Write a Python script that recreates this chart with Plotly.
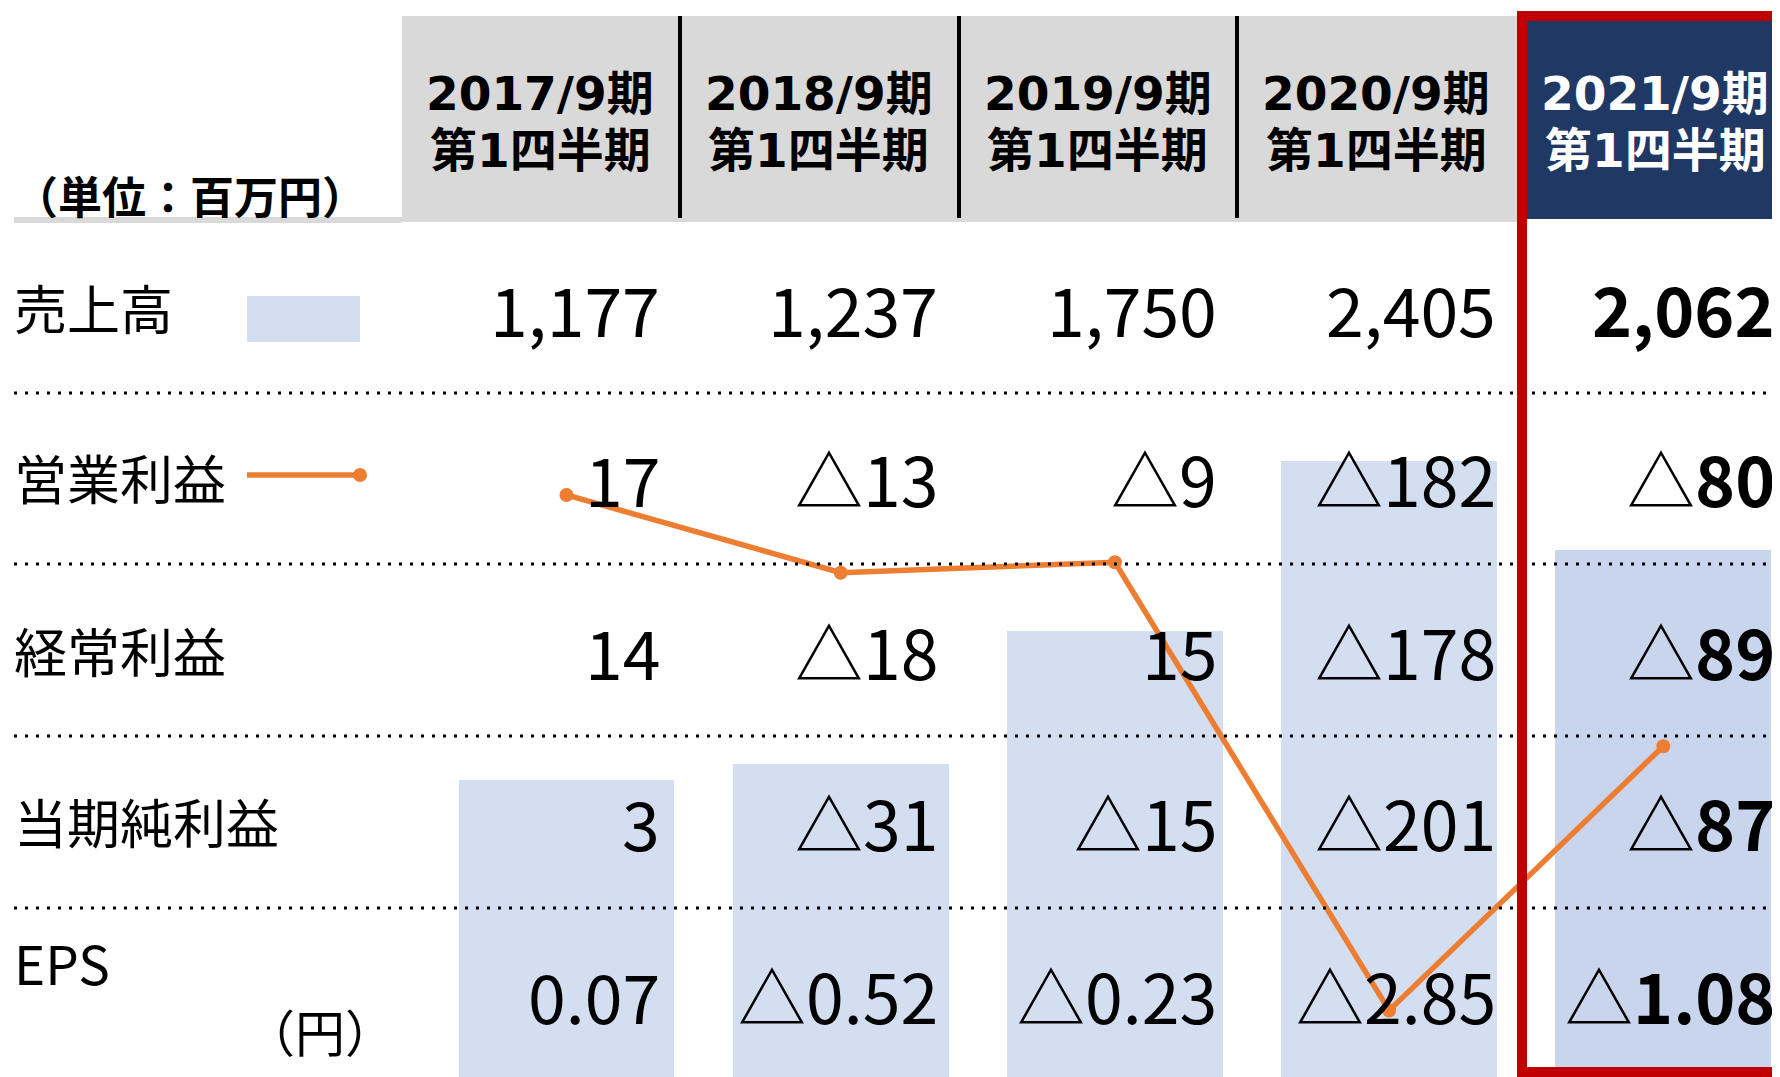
import plotly.graph_objects as go

# ---- data ----
periods = ["2017/9期", "2018/9期", "2019/9期", "2020/9期", "2021/9期"]
quarter_label = "第1四半期"
sales = [1177, 1237, 1750, 2405, 2062]
op_income = [17, -13, -9, -182, -80]
ordinary_income = [14, -18, 15, -178, -89]
net_income = [3, -31, -15, -201, -87]
eps = [0.07, -0.52, -0.23, -2.85, -1.08]
row_labels = ["売上高", "営業利益", "経常利益", "当期純利益", "EPS"]
unit_label = "（単位：百万円）"
eps_unit = "（円）"

# page body has an 8px default margin: figure is placed at (8, 8)
OFF = 8
W, H = 1780 - OFF, 1077 - OFF
FONT = "Noto Sans CJK JP"
HEAD_FONT = "DejaVu Sans, Noto Sans CJK JP"

def px(xp):
    return (xp - OFF) / W

def py(yp):
    return 1 - (yp - OFF) / H

def fmt_int(v):
    s = f"{abs(v):,}"
    return s if v >= 0 else "△" + s

def fmt_eps(v):
    s = f"{abs(v):.2f}"
    return s if v >= 0 else "△" + s

def bold_num(s):
    if s.startswith("△"):
        return "△<b>" + s[1:] + "</b>"
    return "<b>" + s + "</b>"

bar_colors = ["#D3DEF1"] * 4 + ["#C9D5EC"]

fig = go.Figure()
fig.add_trace(go.Bar(x=periods, y=sales, marker=dict(color=bar_colors, line=dict(width=0)),
                     width=0.787, hoverinfo="skip", showlegend=False))
fig.add_trace(go.Scatter(x=periods, y=op_income, yaxis="y2", mode="lines+markers",
                         line=dict(color="#ED7D31", width=5.5),
                         marker=dict(color="#ED7D31", size=14),
                         hoverinfo="skip", showlegend=False))

shapes = []
# header gray block
shapes.append(dict(type="rect", xref="paper", yref="paper", x0=px(402), x1=px(1527),
                   y0=py(222), y1=py(16), fillcolor="#D9D9D9", line=dict(width=0), layer="below"))
# gray underline under unit label
shapes.append(dict(type="rect", xref="paper", yref="paper", x0=px(14), x1=px(402),
                   y0=py(223), y1=py(217), fillcolor="#D9D9D9", line=dict(width=0), layer="below"))
# black separators
for xs in [680, 959, 1237]:
    shapes.append(dict(type="line", xref="paper", yref="paper", x0=px(xs), x1=px(xs),
                       y0=py(218), y1=py(16), line=dict(color="#000000", width=4), layer="above"))
# navy header
shapes.append(dict(type="rect", xref="paper", yref="paper", x0=px(1526), x1=px(1790),
                   y0=py(219), y1=py(21), fillcolor="#203864", line=dict(width=0), layer="above"))
# dotted row lines
for yl in [393, 564, 736, 908]:
    shapes.append(dict(type="line", xref="paper", yref="paper", x0=px(14), x1=px(1790),
                       y0=py(yl), y1=py(yl), line=dict(color="#000000", width=3, dash="3px,8px"),
                       layer="above"))
# legend swatch for sales
shapes.append(dict(type="rect", xref="paper", yref="paper", x0=px(247), x1=px(360),
                   y0=py(342), y1=py(296), fillcolor="#D3DEF1", line=dict(width=0), layer="above"))
# legend line for operating income
shapes.append(dict(type="line", xref="paper", yref="paper", x0=px(247), x1=px(360),
                   y0=py(475), y1=py(475), line=dict(color="#ED7D31", width=5.5), layer="above"))
shapes.append(dict(type="circle", xref="paper", yref="paper", x0=px(353), x1=px(367),
                   y0=py(482), y1=py(468), fillcolor="#ED7D31", line=dict(width=0), layer="above"))
# red highlight border
shapes.append(dict(type="rect", xref="paper", yref="paper", x0=px(1522), x1=px(1810),
                   y0=py(1072), y1=py(16), line=dict(color="#C00000", width=10), layer="above"))

annotations = []
# header texts
for i, p in enumerate(periods):
    cx = 540 + 278.75 * i
    col = "#FFFFFF" if i == 4 else "#000000"
    annotations.append(dict(xref="paper", yref="paper", x=px(cx), y=py(93), text="<b>" + p + "</b>",
                            showarrow=False, xanchor="center", yanchor="middle",
                            font=dict(family=HEAD_FONT, size=47, color=col)))
    annotations.append(dict(xref="paper", yref="paper", x=px(cx), y=py(150), text="<b>" + quarter_label + "</b>",
                            showarrow=False, xanchor="center", yanchor="middle",
                            font=dict(family=HEAD_FONT, size=47, color=col)))
annotations.append(dict(xref="paper", yref="paper", x=px(12), y=py(195), text="<b>" + unit_label + "</b>",
                        showarrow=False, xanchor="left", yanchor="middle",
                        font=dict(family=FONT, size=44, color="#000000")))

row_y = [307, 478, 650, 821, 994]
label_y = [307, 477, 650, 821, 962]
for lbl, ly in zip(row_labels, label_y):
    annotations.append(dict(xref="paper", yref="paper", x=px(12), y=py(ly), text=lbl,
                            showarrow=False, xanchor="left", yanchor="middle",
                            font=dict(family=FONT, size=53, color="#000000")))
annotations.append(dict(xref="paper", yref="paper", x=px(320), y=py(1030), text=eps_unit,
                        showarrow=False, xanchor="center", yanchor="middle",
                        font=dict(family=FONT, size=50, color="#000000")))

rows = [
    [fmt_int(v) for v in sales],
    [fmt_int(v) for v in op_income],
    [fmt_int(v) for v in ordinary_income],
    [fmt_int(v) for v in net_income],
    [fmt_eps(v) for v in eps],
]
for r, vals in enumerate(rows):
    for i, s in enumerate(vals):
        rx = 661.5 + 278.75 * i
        txt = bold_num(s) if i == 4 else s
        annotations.append(dict(xref="paper", yref="paper", x=px(rx), y=py(row_y[r]), text=txt,
                                showarrow=False, xanchor="right", yanchor="middle",
                                font=dict(family=FONT, size=68, color="#000000")))

fig.update_layout(
    width=W, height=H,
    margin=dict(l=0, r=0, t=0, b=0),
    paper_bgcolor="#FFFFFF", plot_bgcolor="#FFFFFF",
    xaxis=dict(type="category", range=[-2.0368, 4.4256], visible=False, fixedrange=True),
    yaxis=dict(range=[33.1, 4149.4], visible=False, fixedrange=True),
    yaxis2=dict(range=[-207.7, 205.0], overlaying="y", visible=False, fixedrange=True),
    shapes=shapes,
    annotations=annotations,
    showlegend=False,
    bargap=0,
)

fig.write_html("out.html")
